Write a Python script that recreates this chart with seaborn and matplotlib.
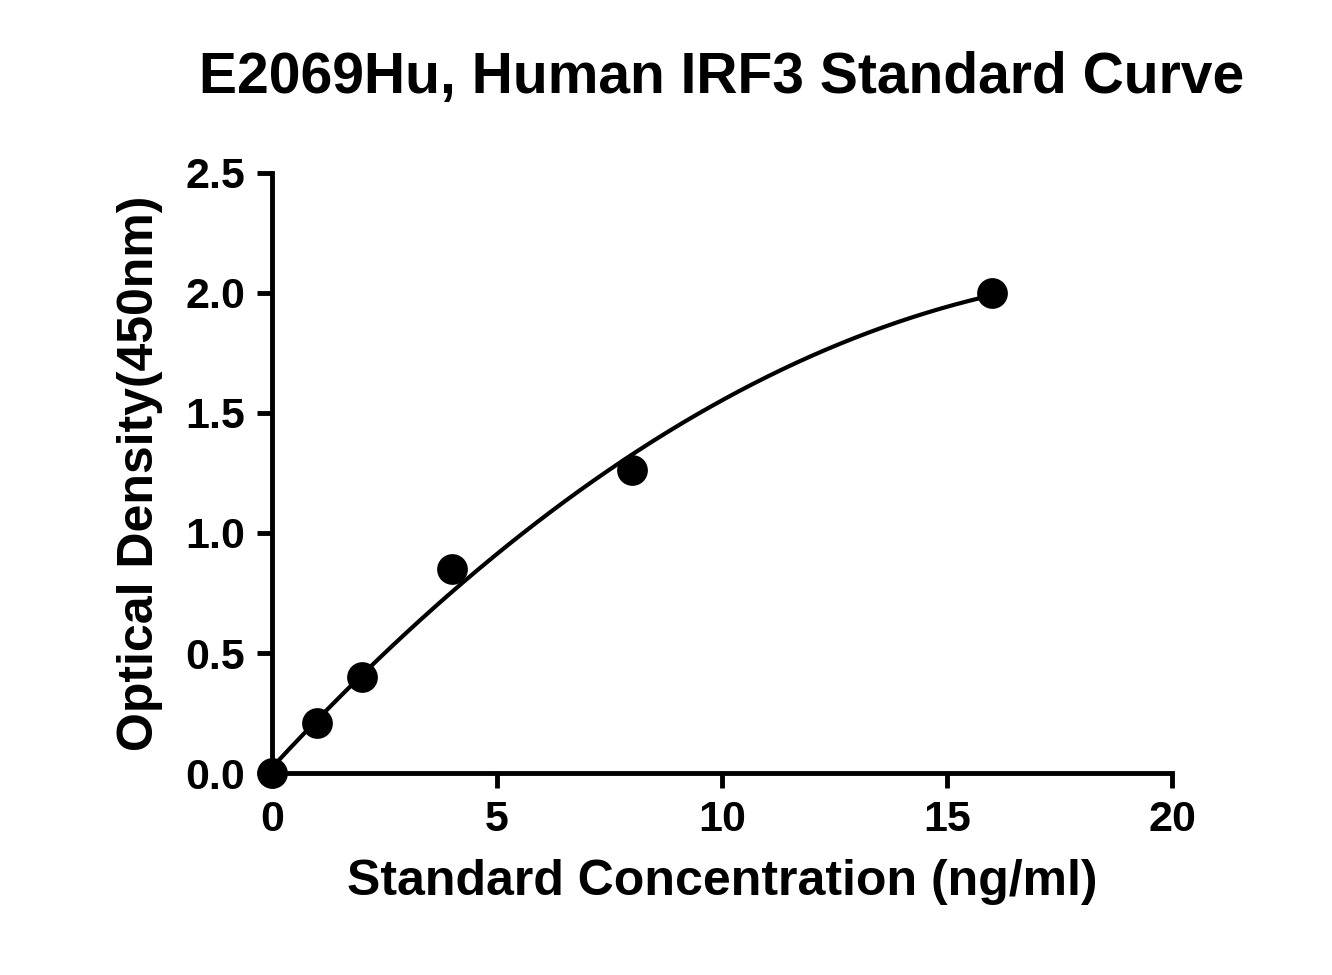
import numpy as np
import pandas as pd
import matplotlib
matplotlib.use("Agg")
import matplotlib.pyplot as plt
import seaborn as sns

sns.set_style("ticks")
plt.rcParams['font.family'] = ['Liberation Sans', 'DejaVu Sans']
plt.rcParams['font.weight'] = 'bold'
plt.rcParams['text.color'] = 'black'
plt.rcParams['axes.labelcolor'] = 'black'
plt.rcParams['xtick.color'] = 'black'
plt.rcParams['ytick.color'] = 'black'
plt.rcParams['axes.edgecolor'] = 'black'

conc = [0, 1, 2, 4, 8, 16]
od = [0.0, 0.21, 0.40, 0.85, 1.26, 2.0]
df = pd.DataFrame({'conc': conc, 'od': od})

# smooth fitted curve through the standards
coef = np.polyfit(conc, od, 2)
xf = np.linspace(0, 16, 200)
fit = pd.DataFrame({'conc': xf, 'od': np.polyval(coef, xf)})

fig = plt.figure(figsize=(13.32, 9.75), dpi=100)
ax = fig.add_axes([0.204, 0.207, 0.676, 0.616])
sns.lineplot(data=fit, x='conc', y='od', ax=ax, color='black', lw=3)
sns.scatterplot(data=df, x='conc', y='od', ax=ax, color='black', s=420, edgecolor='black', zorder=5, clip_on=False)

ax.set_xlim(0, 20)
ax.set_ylim(0, 2.5)
ax.set_xticks([0, 5, 10, 15, 20])
ax.set_yticks([0, 0.5, 1.0, 1.5, 2.0, 2.5])
ax.set_yticklabels(['0.0', '0.5', '1.0', '1.5', '2.0', '2.5'])
sns.despine(ax=ax)
for s in ['left', 'bottom']:
    ax.spines[s].set_linewidth(3.5)
ax.tick_params(width=3.5, length=11, labelsize=31, pad=8)
for lab in ax.get_xticklabels() + ax.get_yticklabels():
    lab.set_fontweight('bold')

ax.set_xlabel('Standard Concentration (ng/ml)', fontsize=36, fontweight='bold', labelpad=14)
ax.set_ylabel('Optical Density(450nm)', fontsize=36, fontweight='bold', labelpad=16)
fig.text(0.542, 0.92, 'E2069Hu, Human IRF3 Standard Curve', ha='center', va='center',
         fontsize=41, fontweight='bold')

fig.savefig('out.png', dpi=100)
